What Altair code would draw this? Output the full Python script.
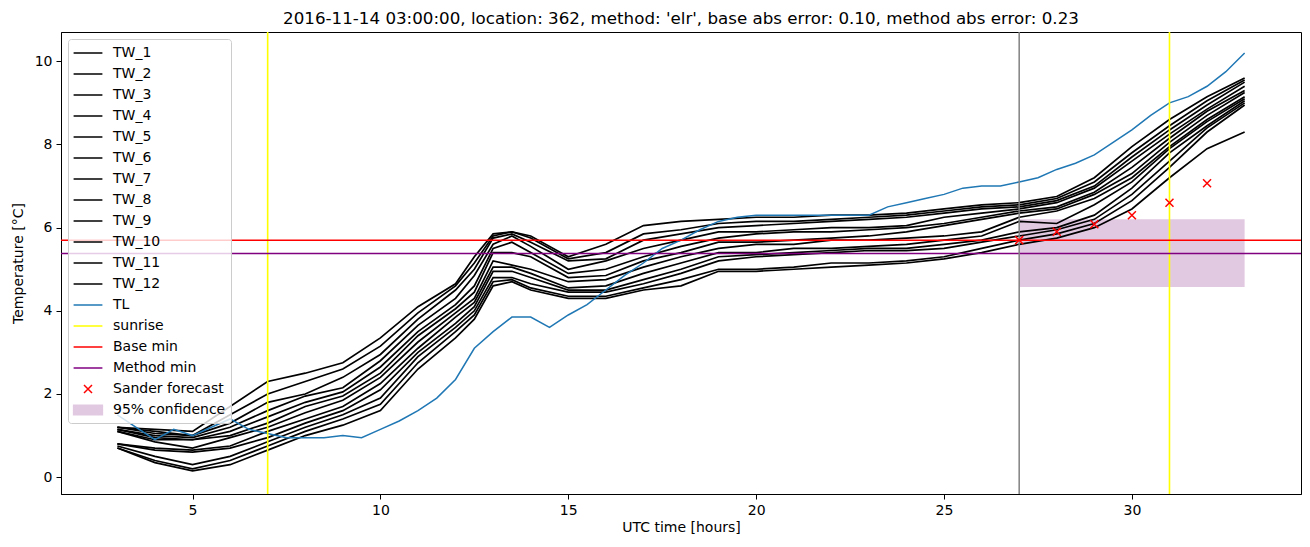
import altair as alt
import pandas as pd

# ---------------- data ----------------
hours = [3, 4, 5, 6, 7, 8, 9, 10, 11, 12, 12.5, 13, 13.5, 14, 15, 16, 17, 18, 19, 20,
         21, 22, 23, 24, 25, 26, 27, 28, 29, 30, 31, 32, 33]

tw_1 = [1.2, 1.15, 1.1, 1.7, 2.3, 2.5, 2.75, 3.35, 4.1, 4.65, 5.3, 5.85, 5.9, 5.8, 5.3, 5.6, 6.05, 6.15, 6.2, 6.25, 6.25, 6.3, 6.3, 6.35, 6.45, 6.55, 6.6, 6.75, 7.2, 7.95, 8.6, 9.15, 9.6]
tw_2 = [1.2, 1.1, 1.0, 1.5, 2.0, 2.3, 2.6, 3.15, 3.95, 4.6, 5.15, 5.8, 5.9, 5.75, 5.25, 5.4, 5.85, 5.95, 6.1, 6.15, 6.15, 6.2, 6.25, 6.3, 6.4, 6.5, 6.55, 6.7, 7.1, 7.8, 8.45, 9.05, 9.55]
tw_3 = [1.2, 1.05, 1.0, 1.3, 1.8, 2.0, 2.4, 2.95, 3.8, 4.5, 5.0, 5.75, 5.85, 5.65, 5.2, 5.25, 5.7, 5.85, 6.0, 6.05, 6.1, 6.15, 6.2, 6.25, 6.35, 6.45, 6.5, 6.65, 7.0, 7.7, 8.35, 8.95, 9.5]
tw_4 = [1.15, 1.0, 0.95, 1.2, 1.6, 1.95, 2.15, 2.8, 3.65, 4.3, 4.85, 5.6, 5.8, 5.55, 5.0, 5.2, 5.5, 5.7, 5.9, 5.9, 5.95, 6.0, 6.0, 6.05, 6.25, 6.35, 6.45, 6.6, 6.95, 7.6, 8.25, 8.85, 9.4]
tw_5 = [1.15, 0.95, 0.9, 1.1, 1.45, 1.8, 2.05, 2.65, 3.5, 4.15, 4.6, 5.5, 5.65, 5.4, 4.9, 5.0, 5.3, 5.55, 5.75, 5.85, 5.9, 5.9, 5.95, 6.0, 6.1, 6.25, 6.4, 6.5, 6.85, 7.45, 8.15, 8.8, 9.3]
tw_6 = [1.1, 0.9, 0.9, 1.0, 1.3, 1.7, 1.95, 2.5, 3.4, 4.05, 4.45, 5.4, 5.4, 5.3, 4.8, 4.85, 5.2, 5.4, 5.65, 5.65, 5.7, 5.75, 5.8, 5.9, 6.05, 6.2, 6.35, 6.45, 6.8, 7.3, 8.05, 8.7, 9.25]
tw_7 = [1.1, 0.85, 0.7, 0.95, 1.2, 1.55, 1.85, 2.4, 3.25, 3.95, 4.3, 5.2, 5.1, 5.0, 4.7, 4.75, 5.05, 5.3, 5.5, 5.6, 5.6, 5.7, 5.7, 5.75, 5.8, 5.9, 6.25, 6.4, 6.7, 7.2, 7.95, 8.6, 9.15]
tw_8 = [0.8, 0.7, 0.65, 0.75, 1.1, 1.4, 1.7, 2.25, 3.1, 3.85, 4.2, 5.05, 5.05, 4.9, 4.55, 4.6, 4.9, 5.15, 5.4, 5.4, 5.5, 5.5, 5.55, 5.6, 5.7, 5.8, 6.15, 6.1, 6.55, 7.1, 7.9, 8.55, 9.1]
tw_9 = [0.8, 0.65, 0.6, 0.7, 0.95, 1.3, 1.6, 2.1, 3.0, 3.7, 4.1, 4.95, 4.95, 4.8, 4.5, 4.5, 4.75, 5.0, 5.3, 5.35, 5.4, 5.45, 5.5, 5.5, 5.6, 5.7, 5.9, 6.0, 6.3, 6.95, 7.8, 8.45, 9.05]
tw_10 = [0.75, 0.5, 0.3, 0.5, 0.85, 1.2, 1.5, 1.9, 2.9, 3.6, 4.0, 4.8, 4.8, 4.65, 4.45, 4.45, 4.65, 4.9, 5.2, 5.3, 5.35, 5.4, 5.45, 5.45, 5.5, 5.65, 5.8, 5.95, 6.2, 6.8, 7.6, 8.4, 9.0]
tw_11 = [0.7, 0.4, 0.2, 0.4, 0.75, 1.1, 1.4, 1.75, 2.75, 3.5, 3.9, 4.7, 4.75, 4.55, 4.35, 4.35, 4.55, 4.75, 5.0, 5.0, 5.05, 5.15, 5.15, 5.2, 5.3, 5.5, 5.7, 5.85, 6.1, 6.65, 7.45, 8.3, 8.95]
tw_12 = [0.7, 0.35, 0.15, 0.3, 0.65, 1.0, 1.25, 1.6, 2.6, 3.35, 3.8, 4.6, 4.7, 4.5, 4.3, 4.3, 4.5, 4.6, 4.95, 4.95, 5.0, 5.05, 5.1, 5.15, 5.25, 5.4, 5.6, 5.75, 6.0, 6.45, 7.2, 7.9, 8.3]
tw_series = [tw_1, tw_2, tw_3, tw_4, tw_5, tw_6, tw_7, tw_8, tw_9, tw_10, tw_11, tw_12]

tl_hours = [3 + 0.5 * i for i in range(61)]
tl = [1.5, 1.2, 0.9, 1.15, 1.0, 1.2, 1.4, 1.15, 1.05, 0.95, 0.95, 0.95, 1.0, 0.95, 1.15,
      1.35, 1.6, 1.9, 2.35, 3.1, 3.5, 3.85, 3.85, 3.6, 3.9, 4.15, 4.5, 4.85, 5.15, 5.5,
      5.7, 5.95, 6.15, 6.25, 6.3, 6.3, 6.3, 6.3, 6.3, 6.3, 6.3, 6.5, 6.6, 6.7, 6.8,
      6.95, 7.0, 7.0, 7.1, 7.2, 7.4, 7.55, 7.75, 8.05, 8.35, 8.7, 9.0, 9.15, 9.4, 9.75, 10.2]

sunrise_hours = [7, 31]
base_min = 5.70
method_min = 5.38
forecast_start = 27
sander_hours = [27, 28, 29, 30, 31, 32]
sander_vals = [5.70, 5.90, 6.08, 6.30, 6.60, 7.07]
conf_hours = [27, 33]
conf_bounds = [4.57, 6.20]

names = [f"TW_{i}" for i in range(1, 13)] + ["TL", "sunrise", "Base min", "Method min",
                                             "Sander forecast", "95% confidence"]
colors = ["black"] * 12 + ["#1f77b4", "yellow", "red", "purple", "red", "#e2c9e2"]

title = ("2016-11-14 03:00:00, location: 362, method: 'elr', base abs error: 0.10, "
         "method abs error: 0.23")

# ---------------- tables ----------------
tw_df = pd.DataFrame([
    {"h": h, "v": v, "series": f"TW_{i + 1}"}
    for i, s in enumerate(tw_series) for h, v in zip(hours, s)
])
tl_df = pd.DataFrame({"h": tl_hours, "v": tl, "series": "TL"})
sun_df = pd.DataFrame({"h": sunrise_hours, "series": "sunrise"})
bmin_df = pd.DataFrame({"v": [base_min], "series": ["Base min"]})
mmin_df = pd.DataFrame({"v": [method_min], "series": ["Method min"]})
gray_df = pd.DataFrame({"h": [forecast_start]})
sander_df = pd.DataFrame({"h": sander_hours, "v": sander_vals, "series": "Sander forecast"})
conf_df = pd.DataFrame({"h": [conf_hours[0]], "h2": [conf_hours[1]],
                        "v": [conf_bounds[0]], "v2": [conf_bounds[1]],
                        "series": ["95% confidence"]})

FONT = "DejaVu Sans"
xs = alt.Scale(domain=[1.5, 34.5], nice=False, zero=False)
ys = alt.Scale(domain=[-0.405, 10.705], nice=False, zero=False)
ax_common = dict(grid=False, tickSize=5, tickColor="black", domainColor="black",
                 labelFontSize=14, labelFont=FONT, labelColor="black",
                 titleFontSize=14, titleFont=FONT, titleFontWeight="normal",
                 titleColor="black", labelPadding=4, labelFlush=False)
X = alt.X("h:Q", scale=xs, title="UTC time [hours]",
          axis=alt.Axis(values=[5, 10, 15, 20, 25, 30], titlePadding=3, **ax_common))
Y = alt.Y("v:Q", scale=ys, title="Temperature [°C]",
          axis=alt.Axis(values=[0, 2, 4, 6, 8, 10], titlePadding=9, **ax_common))

shape_expr = ("datum.value === 'Sander forecast' ? 'M-0.5,-0.5L0.5,0.5M-0.5,0.5L0.5,-0.5' : "
              "(datum.value === '95% confidence' ? 'M-1.8,-0.6H1.8V0.6H-1.8Z' : 'M-1.8,0H1.8')")
fill_expr = "datum.value === '95% confidence' ? '#e2c9e2' : 'transparent'"

leg = alt.Legend(title=None, orient="top-left", offset=7,
                 fillColor="rgba(255,255,255,0.8)", strokeColor="#cccccc",
                 cornerRadius=3, padding=5, labelFontSize=14, labelFont=FONT,
                 labelColor="black", symbolSize=256, symbolStrokeWidth=1.5,
                 symbolType={"expr": shape_expr},
                 symbolFillColor={"expr": fill_expr},
                 symbolOpacity=1,
                 rowPadding=5, labelOffset=16, symbolOffset=6,
                 labelLimit=300, symbolLimit=50)
color = alt.Color("series:N", scale=alt.Scale(domain=names, range=colors), legend=leg)

rect = alt.Chart(conf_df).mark_rect().encode(x=X, x2="h2", y=Y, y2="v2", color=color)
tw = alt.Chart(tw_df).mark_line(strokeWidth=1.7, clip=True).encode(x=X, y=Y, color=color)
tl_l = alt.Chart(tl_df).mark_line(strokeWidth=1.5, clip=True).encode(x=X, y=Y, color=color)
sun = alt.Chart(sun_df).mark_rule(strokeWidth=1.6).encode(x=X, color=color)
bmin = alt.Chart(bmin_df).mark_rule(strokeWidth=1.5).encode(y=Y, color=color)
mmin = alt.Chart(mmin_df).mark_rule(strokeWidth=1.5).encode(y=Y, color=color)
gray = alt.Chart(gray_df).mark_rule(strokeWidth=1.5).encode(x=X, color=alt.value("#808080"))
sander = alt.Chart(sander_df).mark_point(
    shape="M-0.5,-0.5L0.5,0.5M-0.5,0.5L0.5,-0.5", size=256, filled=False,
    strokeWidth=1.5, opacity=1).encode(x=X, y=Y, color=color)

chart = alt.layer(rect, tw, tl_l, sun, bmin, mmin, gray, sander).properties(
    width=1240, height=462,
    title=alt.TitleParams(text=title, fontSize=16.7, font=FONT, fontWeight="normal",
                          color="black", offset=4),
    autosize=alt.AutoSizeParams(type="none"),
    padding={"left": 53, "top": 24, "right": 1, "bottom": 41},
).configure_view(stroke="black", strokeWidth=1)

chart.save("out.html", embed_options={"renderer": "svg", "actions": False})
